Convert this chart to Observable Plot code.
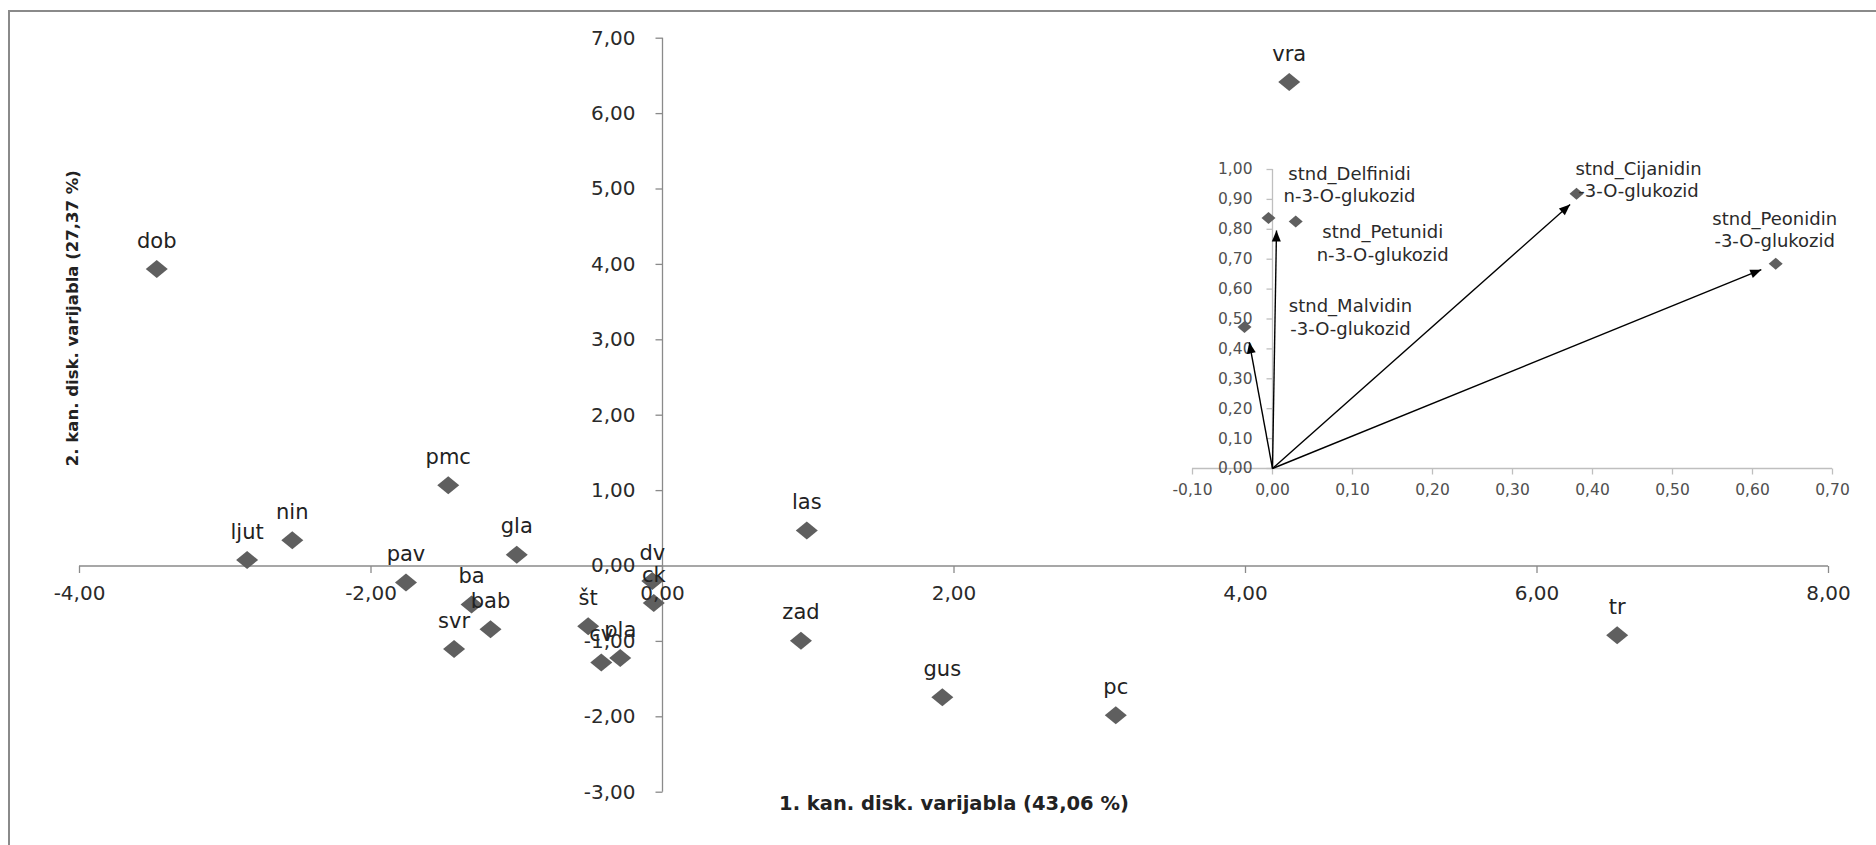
<!DOCTYPE html>
<html><head><meta charset="utf-8">
<script src="https://cdn.jsdelivr.net/npm/d3@7"></script>
<script src="https://cdn.jsdelivr.net/npm/@observablehq/plot@0.6"></script>
<style>
html,body{margin:0;padding:0;background:#fff;overflow:hidden;}
#wrap{position:relative;width:1876px;height:845px;overflow:hidden;background:#fff;}
#border{position:absolute;left:8px;top:10px;width:3000px;height:3000px;border-left:2.5px solid #8a8a8a;border-top:2.5px solid #8a8a8a;}
#main,#inset{position:absolute;left:0;top:0;}
</style></head><body>
<div id="wrap"><div id="border"></div><div id="main"></div><div id="inset"></div></div>
<script>
// ---- data: discriminant scores ----
const samples = ["dob","ljut","nin","pmc","pav","gla","ba","bab","svr","št","cv","pla","dv","ck","las","zad","gus","pc","vra","tr"];
const dim1 = [-3.47,-2.85,-2.54,-1.47,-1.76,-1.00,-1.31,-1.18,-1.43,-0.51,-0.42,-0.29,-0.07,-0.06,0.99,0.95,1.92,3.11,4.30,6.55];
const dim2 = [3.94,0.08,0.34,1.07,-0.22,0.15,-0.51,-0.84,-1.10,-0.80,-1.28,-1.22,-0.20,-0.49,0.47,-0.99,-1.74,-1.98,6.42,-0.92];
const xTicks = [-4,-2,0,2,4,6,8];
const yTicks = [-3,-2,-1,0,1,2,3,4,5,6,7];
const xTitle = "1. kan. disk. varijabla (43,06 %)";
const yTitle = "2. kan. disk. varijabla (27,37 %)";

// ---- data: inset (loadings) ----
const loadLabels = ["stnd_Delfinidi\nn-3-O-glukozid","stnd_Petunidi\nn-3-O-glukozid","stnd_Malvidin\n-3-O-glukozid","stnd_Cijanidin\n-3-O-glukozid","stnd_Peonidin\n-3-O-glukozid"];
const loadX = [-0.005,0.029,-0.035,0.380,0.629];
const loadY = [0.838,0.826,0.473,0.919,0.685];
const arrowTipX = [0.005,-0.029,0.372,0.611];
const arrowTipY = [0.796,0.422,0.883,0.665];
const insetXTicks = [-0.1,0,0.1,0.2,0.3,0.4,0.5,0.6,0.7];
const insetYTicks = [0,0.1,0.2,0.3,0.4,0.5,0.6,0.7,0.8,0.9,1.0];

// ---- layout ----
const W = 1876, H = 845;
const labelOffsets = [[81,-34],[87,21],[106,-11],[62,-15],[-1,-35]];
const fmt = d3.formatLocale({decimal:",",thousands:".",grouping:[3],currency:["",""],minus:"-"}).format(".2f");
const font = "DejaVu Sans";
const diamond = (hw, hh) => ({draw(c){c.moveTo(0,-hh);c.lineTo(hw,0);c.lineTo(0,hh);c.lineTo(-hw,0);c.closePath();}});
const tickDown = (l) => ({draw(c){c.moveTo(0,0);c.lineTo(0,l);}});
const tickLeft = (l) => ({draw(c){c.moveTo(0,0);c.lineTo(-l,0);}});
const arrowHead = {draw(c){c.moveTo(0,0);c.lineTo(4.5,11);c.lineTo(-4.5,11);c.closePath();}};

const pts = samples.map((s,i)=>({name:s, x:dim1[i], y:dim2[i]}));
const axisC = "#8a8a8a";

const main = Plot.plot({
  width: W, height: H,
  marginLeft: 79, marginRight: 48, marginTop: 37.7, marginBottom: 53.3,
  x: {domain: [-4, 8], axis: null},
  y: {domain: [-3, 7], axis: null},
  style: {background: "transparent", fontFamily: font},
  marks: [
    Plot.ruleY([0], {x1: -4, x2: 8, stroke: axisC, strokeWidth: 1.3}),
    Plot.ruleX([0], {y1: -3, y2: 7, stroke: axisC, strokeWidth: 1.3}),
    Plot.dot(xTicks, {x: d=>d, y: 0, symbol: tickDown(7), stroke: axisC, fill: "none", strokeWidth: 1.3}),
    Plot.dot(yTicks, {x: 0, y: d=>d, symbol: tickLeft(7), stroke: axisC, fill: "none", strokeWidth: 1.3}),
    Plot.dot(pts, {x: "x", y: "y", symbol: diamond(11, 9), fill: "#5f5f5f", stroke: "none"}),
    Plot.text(pts, {x: "x", y: "y", text: "name", dy: -28, fontSize: 21, fill: "#222"}),
    Plot.text(xTicks, {x: d=>d, y: 0, dy: 28, text: d=>fmt(d), fontSize: 20, fill: "#2a2a2a"}),
    Plot.text(yTicks, {x: 0, y: d=>d, dx: -27, textAnchor: "end", text: d=>fmt(d), fontSize: 20, fill: "#2a2a2a"}),
    Plot.text([xTitle], {frameAnchor: "bottom", x: 2, dy: 18, text: d=>d, fontSize: 19.5, fontWeight: "bold", fill: "#222"}),
    Plot.text([yTitle], {frameAnchor: "left", textAnchor: "middle", dx: -7, dy: -97, rotate: -90, text: d=>d, fontSize: 16.5, fontWeight: "bold", fill: "#222"})
  ]
});
document.getElementById("main").append(main);

// ---- inset biplot ----
const iML = 1192, iMR = 44, iMT = 169, iMB = 377;
const kx = (W - iML - iMR) / 0.8, ky = (H - iMT - iMB) / 1.0;
const loads = loadLabels.map((l,i)=>({label:l, x:loadX[i], y:loadY[i], dx: labelOffsets[i][0], dy: labelOffsets[i][1]}));
const arrows = arrowTipX.map((x,i)=>({x, y: arrowTipY[i], angle: Math.atan2(x*kx, arrowTipY[i]*ky)*180/Math.PI}));
const insetAxisC = "#bfbfbf";

const inset = Plot.plot({
  width: W, height: H,
  marginLeft: iML, marginRight: iMR, marginTop: iMT, marginBottom: iMB,
  x: {domain: [-0.1, 0.7], axis: null},
  y: {domain: [0, 1], axis: null},
  style: {background: "transparent", fontFamily: font},
  marks: [
    Plot.ruleY([0], {x1: -0.1, x2: 0.7, stroke: insetAxisC, strokeWidth: 1.3}),
    Plot.ruleX([0], {y1: 0, y2: 1, stroke: insetAxisC, strokeWidth: 1.3}),
    Plot.dot(insetXTicks, {x: d=>d, y: 0, symbol: tickDown(6), stroke: insetAxisC, fill: "none", strokeWidth: 1.3}),
    Plot.dot(insetYTicks, {x: 0, y: d=>d, symbol: tickLeft(6), stroke: insetAxisC, fill: "none", strokeWidth: 1.3}),
    Plot.text(insetXTicks, {x: d=>d, y: 0, dy: 22, text: d=>fmt(d), fontSize: 15.5, fill: "#505050"}),
    Plot.text(insetYTicks, {x: 0, y: d=>d, dx: -20, textAnchor: "end", text: d=>fmt(d), fontSize: 15.5, fill: "#505050"}),
    Plot.dot(loads, {x: "x", y: "y", symbol: diamond(7, 6), fill: "#5f5f5f", stroke: "none"}),
    Plot.link(arrows, {x1: 0, y1: 0, x2: "x", y2: "y", stroke: "#000", strokeWidth: 1.4}),
    Plot.dot(arrows, {x: "x", y: "y", rotate: "angle", symbol: arrowHead, fill: "#000", stroke: "none"}),
    ...loads.map(d => Plot.text([d], {x: "x", y: "y", text: "label", dx: d.dx, dy: d.dy, fontSize: 18, lineHeight: 1.25, fill: "#2a2a2a"}))
  ]
});
document.getElementById("inset").append(inset);
</script>
</body></html>
